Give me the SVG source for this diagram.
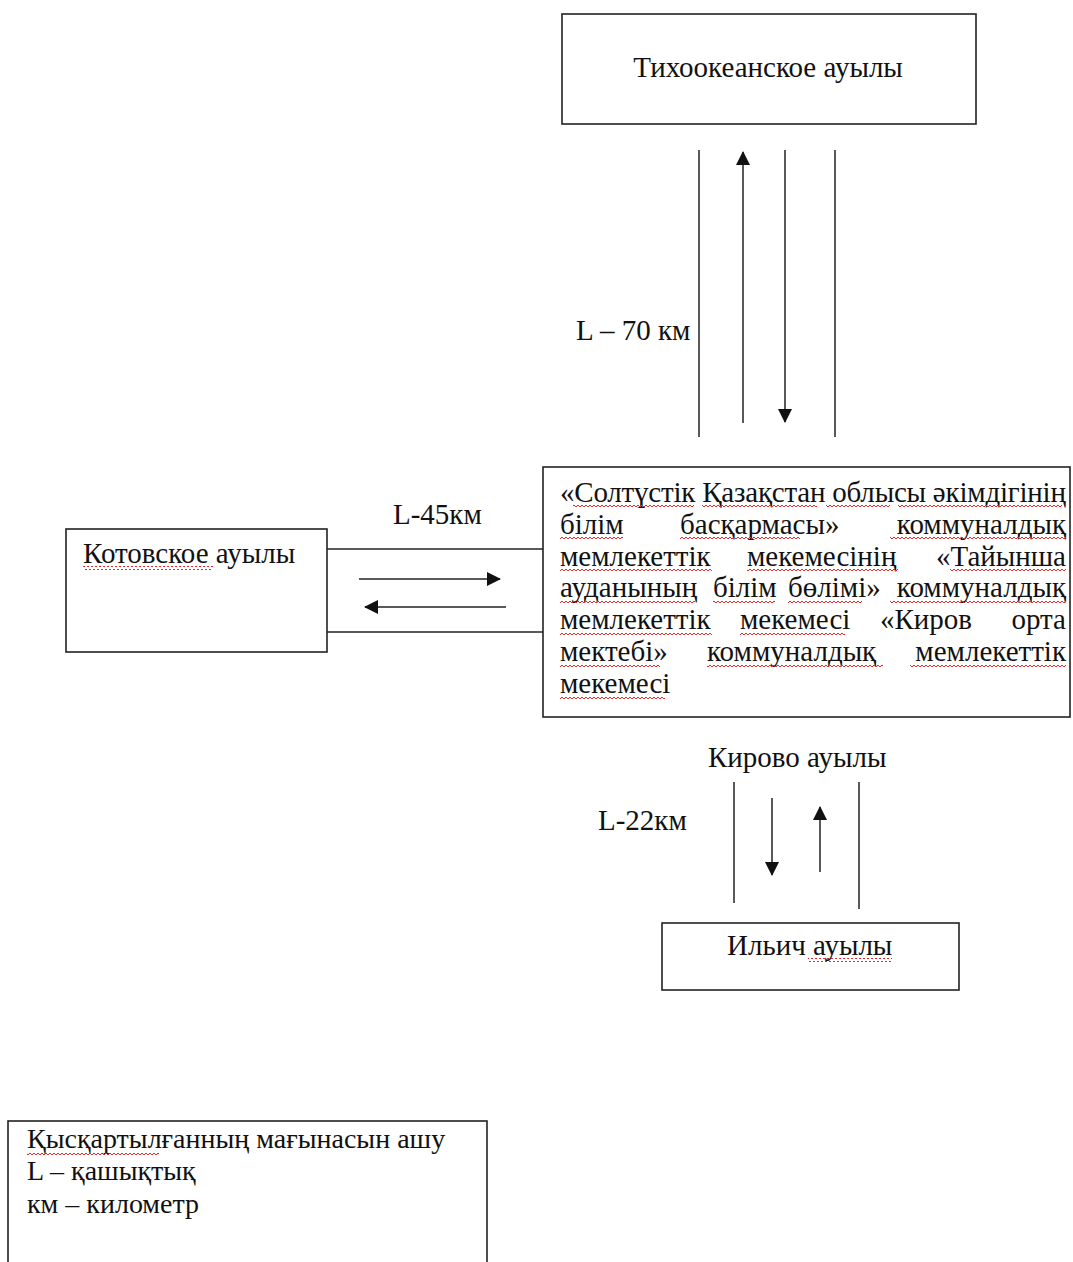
<svg xmlns="http://www.w3.org/2000/svg" width="1073" height="1262" viewBox="0 0 1073 1262">
<style>
.t{font-family:"Liberation Serif","Times New Roman",serif;font-size:29px;fill:#111}
.lg{font-size:28px}
.e{text-anchor:end}
.m{text-anchor:middle}
.box{fill:#fff;stroke:#222;stroke-width:1.6}
.ln{stroke:#222;stroke-width:1.5;fill:none}
.ar{stroke:#222;stroke-width:1.5;fill:none;marker-end:url(#ah)}
.sq{fill:url(#wave)}
</style>
<defs>
<marker id="ah" markerUnits="userSpaceOnUse" markerWidth="14" markerHeight="14" refX="13" refY="7" orient="auto">
<path d="M0,0 L14,7 L0,14 z" fill="#111"/>
</marker>
<pattern id="wave" patternUnits="userSpaceOnUse" width="4" height="4" x="0" y="0">
<path d="M0,3 L2,1 L4,3" stroke="#e02828" stroke-width="1" fill="none"/>
</pattern>
</defs>
<rect width="1073" height="1262" fill="#fff"/>

<g id="connectors">
<line class="ln" x1="699" y1="150" x2="699" y2="437"/>
<line class="ln" x1="835" y1="150" x2="835" y2="437"/>
<line class="ar" x1="743" y1="423" x2="743" y2="152"/>
<line class="ar" x1="785" y1="150" x2="785" y2="422"/>
<line class="ln" x1="327" y1="549" x2="543" y2="549"/>
<line class="ln" x1="327" y1="632" x2="543" y2="632"/>
<line class="ar" x1="359" y1="579" x2="500" y2="579"/>
<line class="ar" x1="506" y1="607" x2="365" y2="607"/>
<line class="ln" x1="734" y1="782" x2="734" y2="903"/>
<line class="ln" x1="859" y1="782" x2="859" y2="909"/>
<line class="ar" x1="772" y1="798" x2="772" y2="875"/>
<line class="ar" x1="820" y1="872" x2="820" y2="807"/>
</g>

<g id="labels">
<text class="t" x="576" y="340">L – 70 км</text>
<text class="t" x="393" y="524">L-45км</text>
<text class="t" x="708" y="767">Кирово ауылы</text>
<text class="t" x="598" y="830">L-22км</text>
</g>

<g id="node-tihookeanskoe">
<rect class="box" x="562" y="14" width="414" height="110"/>
<text class="t m" x="768" y="77">Тихоокеанское ауылы</text>
</g>

<g id="node-kotovskoe">
<rect class="box" x="66" y="529" width="261" height="123"/>
<text class="t" x="83" y="563">Котовское ауылы</text>
<rect class="sq" x="83" y="566" width="130" height="4"/>
</g>

<g id="node-school">
<rect class="box" x="543" y="467" width="527" height="250"/>
<text class="t" x="560" y="502" textLength="506" lengthAdjust="spacing">«Солтүстік Қазақстан облысы әкімдігінің</text>
<text class="t" x="560" y="534">білім</text>
<text class="t" x="680" y="534">басқармасы»</text>
<text class="t e" x="1066" y="534">коммуналдық</text>
<text class="t" x="560" y="566">мемлекеттік</text>
<text class="t" x="747" y="566">мекемесінің</text>
<text class="t e" x="1066" y="566">«Тайынша</text>
<text class="t" x="560" y="597">ауданының</text>
<text class="t" x="713" y="597">білім</text>
<text class="t" x="788" y="597">бөлімі»</text>
<text class="t e" x="1066" y="597">коммуналдық</text>
<text class="t" x="560" y="629">мемлекеттік</text>
<text class="t" x="740" y="629">мекемесі</text>
<text class="t" x="880" y="629">«Киров</text>
<text class="t e" x="1066" y="629">орта</text>
<text class="t" x="560" y="661">мектебі»</text>
<text class="t" x="707" y="661">коммуналдық</text>
<text class="t e" x="1066" y="661">мемлекеттік</text>
<text class="t" x="560" y="693">мекемесі</text>
<rect class="sq" x="573" y="505" width="121" height="4"/>
<rect class="sq" x="702" y="505" width="115" height="4"/>
<rect class="sq" x="826" y="505" width="64" height="4"/>
<rect class="sq" x="898" y="505" width="164" height="4"/>
<rect class="sq" x="560" y="537" width="63" height="4"/>
<rect class="sq" x="680" y="537" width="120" height="4"/>
<rect class="sq" x="890" y="537" width="176" height="4"/>
<rect class="sq" x="560" y="569" width="152" height="4"/>
<rect class="sq" x="747" y="569" width="151" height="4"/>
<rect class="sq" x="950" y="569" width="116" height="4"/>
<rect class="sq" x="560" y="600" width="135" height="4"/>
<rect class="sq" x="713" y="600" width="62" height="4"/>
<rect class="sq" x="788" y="600" width="74" height="4"/>
<rect class="sq" x="890" y="600" width="176" height="4"/>
<rect class="sq" x="560" y="632" width="152" height="4"/>
<rect class="sq" x="740" y="632" width="105" height="4"/>
<rect class="sq" x="560" y="664" width="100" height="4"/>
<rect class="sq" x="707" y="664" width="176" height="4"/>
<rect class="sq" x="910" y="664" width="156" height="4"/>
<rect class="sq" x="560" y="696" width="105" height="4"/>
</g>

<g id="node-ilyich">
<rect class="box" x="662" y="923" width="297" height="67"/>
<text class="t" x="727" y="955">Ильич ауылы</text>
<rect class="sq" x="808" y="958" width="84" height="4"/>
</g>

<g id="node-legend">
<rect class="box" x="8" y="1121" width="479" height="160"/>
<text class="t lg" x="27" y="1148">Қысқартылғанның мағынасын ашу</text>
<text class="t lg" x="27" y="1180">L – қашықтық</text>
<text class="t lg" x="27" y="1213">км – километр</text>
<rect class="sq" x="27" y="1151" width="132" height="4"/>
</g>
</svg>
